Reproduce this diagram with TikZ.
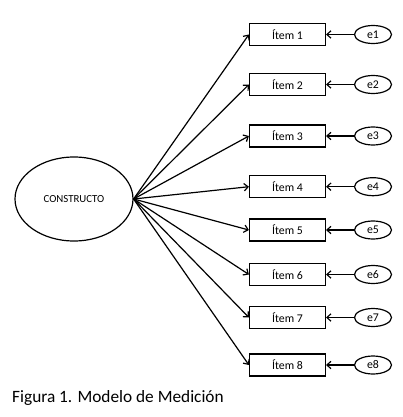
\documentclass[tikz,border=0pt]{standalone}
\usepackage{fontspec}
\setmainfont{Carlito}
\usetikzlibrary{arrows.meta,shapes.geometric}
\begin{document}
\begin{tikzpicture}[x=1pt,y=-1pt,
  itembox/.style={draw,line width=1.2pt,minimum width=76pt,minimum height=22pt,inner sep=0pt,font=\fontsize{11.8}{12}\selectfont},
  errnode/.style={draw,ellipse,line width=1.2pt,minimum width=37pt,minimum height=18pt,inner sep=0pt,font=\fontsize{11.8}{12}\selectfont},
  load/.style={line width=1.2pt,-{Straight Barb[length=4pt,width=7.5pt,line width=1.2pt]}},
  errarrow/.style={line width=1.2pt,-{Straight Barb[length=4pt,width=7.5pt,line width=1.2pt]}}]
\useasboundingbox (0,0) rectangle (403,417);
\node[draw,ellipse,line width=1.2pt,minimum width=118pt,minimum height=84pt,inner sep=0pt,font=\fontsize{10.8}{12}\selectfont] (c) at (74,199) {CONSTRUCTO};
\foreach \n/\y in {1/34.5,2/84.5,3/136,4/186.7,5/230,6/274.5,7/317.5,8/365}{
  \node[itembox] (i\n) at (287.5,\y) {Ítem \n};
  \node[errnode] (e\n) at (373,\y) {e\n};
  \draw[load] (c.east) -- (i\n.west);
  \draw[errarrow] (e\n.west) -- (i\n.east);
}
\node[anchor=base west,inner sep=0pt,font=\fontsize{17.3}{20}\selectfont] (cap) at (12,402.5) {Figura 1. Modelo de Medición};
\end{tikzpicture}
\end{document}
